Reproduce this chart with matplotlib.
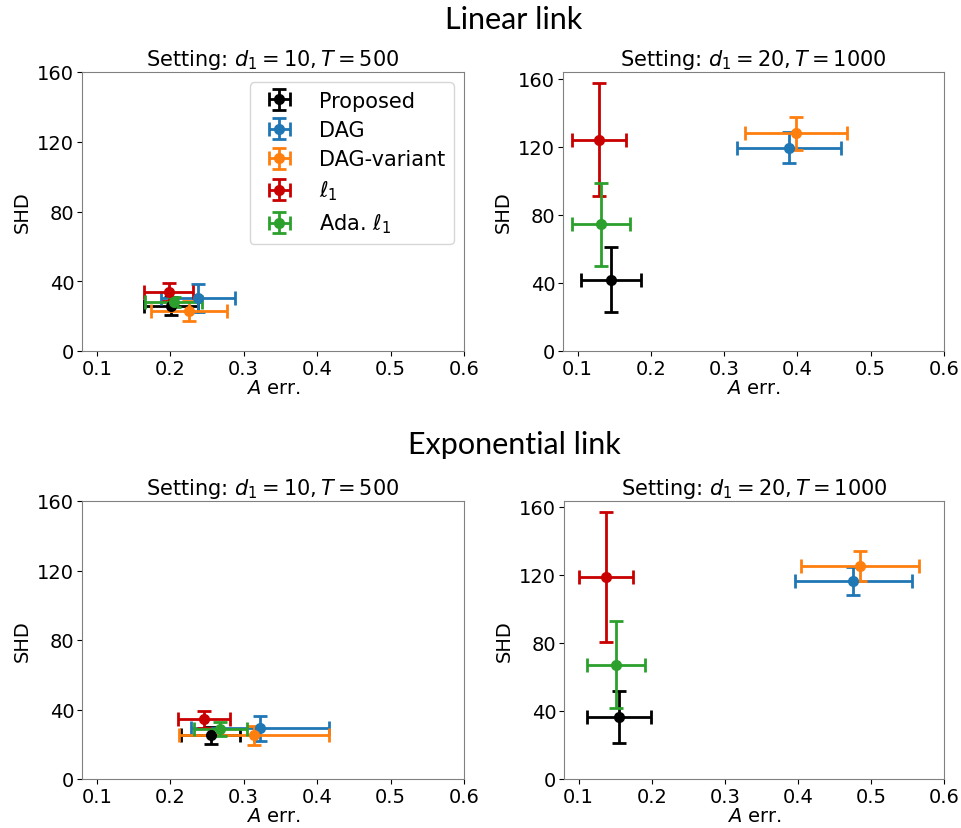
import matplotlib.pyplot as plt
import numpy as np

methods = ['Proposed', 'DAG', 'DAG-variant', r'$\ell_1$', r'Ada. $\ell_1$']
colors = ['black', '#1f77b4', '#ff7f0e', '#c80000', '#2ca02c']

# linear link, d1=10, T=500
lin10_x = [0.201, 0.238, 0.226, 0.198, 0.205]
lin10_xerr = [0.037, 0.050, 0.052, 0.033, 0.039]
lin10_y = [25.8, 30.6, 22.9, 33.6, 28.1]
lin10_yerr = [5.2, 8.0, 5.9, 5.2, 3.0]

# linear link, d1=20, T=1000
lin20_x = [0.145, 0.389, 0.398, 0.129, 0.132]
lin20_xerr = [0.041, 0.071, 0.070, 0.037, 0.040]
lin20_y = [41.9, 119.5, 127.9, 124.2, 74.5]
lin20_yerr = [19.2, 9.0, 9.6, 33.3, 24.3]

# exponential link, d1=10, T=500
exp10_x = [0.255, 0.322, 0.314, 0.246, 0.268]
exp10_xerr = [0.040, 0.094, 0.102, 0.035, 0.036]
exp10_y = [25.1, 29.1, 25.1, 34.4, 28.7]
exp10_yerr = [4.8, 7.0, 5.4, 5.0, 4.0]

# exponential link, d1=20, T=1000
exp20_x = [0.155, 0.476, 0.485, 0.138, 0.151]
exp20_xerr = [0.044, 0.080, 0.081, 0.037, 0.040]
exp20_y = [36.4, 116.4, 125.1, 118.9, 67.1]
exp20_yerr = [15.3, 8.0, 8.9, 38.2, 25.6]

xticks = [0.1, 0.2, 0.3, 0.4, 0.5, 0.6]
yticks = [0, 40, 80, 120, 160]

W, H = 962, 829
fig = plt.figure(figsize=(W / 100, H / 100), dpi=100)


def box(l, r, t, b):
    return [l / W, 1 - b / H, (r - l) / W, (b - t) / H]


def panel(rect, xs, xe, ys, ye, title, ytop, legend=False):
    ax = fig.add_axes(rect)
    for i in range(len(methods)):
        ax.errorbar(xs[i], ys[i], xerr=xe[i], yerr=ye[i], fmt='o', color=colors[i],
                    ms=7, elinewidth=2, capsize=5, capthick=2, label=methods[i])
    ax.set_xlim(0.08, 0.6)
    ax.set_ylim(0, ytop)
    ax.set_xticks(xticks)
    ax.set_yticks(yticks)
    ax.tick_params(labelsize=14, pad=2)
    ax.set_xlabel(r'$A$ err.', fontsize=14, labelpad=0)
    ax.set_ylabel('SHD', fontsize=14)
    ax.set_title(title, fontsize=15, pad=5)
    for s in ax.spines.values():
        s.set_color('#808080')
    if legend:
        ax.legend(loc='upper right', fontsize=15, handletextpad=0.9, borderpad=0.4,
                  labelspacing=0.45)
    return ax


panel(box(82, 464, 73, 352), lin10_x, lin10_xerr, lin10_y, lin10_yerr,
      r'Setting: $d_1 = 10, T = 500$', 160, legend=True)
panel(box(563, 944, 73, 352), lin20_x, lin20_xerr, lin20_y, lin20_yerr,
      r'Setting: $d_1 = 20, T = 1000$', 164)
panel(box(82, 464, 502, 780), exp10_x, exp10_xerr, exp10_y, exp10_yerr,
      r'Setting: $d_1 = 10, T = 500$', 160)
panel(box(564, 944, 502, 780), exp20_x, exp20_xerr, exp20_y, exp20_yerr,
      r'Setting: $d_1 = 20, T = 1000$', 163.5)

fig.text(514 / W, 1 - 20 / H, 'Linear link', fontsize=22, family='Lato', ha='center', va='center')
fig.text(514 / W, 1 - 445 / H, 'Exponential link', fontsize=22, family='Lato', ha='center', va='center')

fig.savefig('out.png', dpi=100)
